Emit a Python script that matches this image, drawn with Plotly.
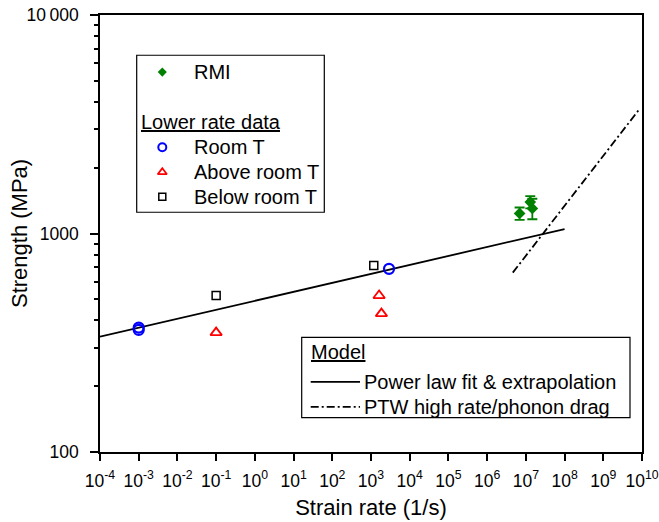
import plotly.graph_objects as go

FONT = "Liberation Sans, Arial, sans-serif"

# ---- data ----
rmi_rate = [6.9e6, 1.30e7, 1.47e7]
rmi_strength = [1235, 1392, 1302]
rmi_err = [80, 90, 140]

room_rate = [1e-3, 1e-3, 2.92e3]
room_strength = [371, 362, 689]

above_rate = [1e-1, 1.62e3, 1.86e3]
above_strength = [352, 520, 430]

below_rate = [1e-1, 1.18e3]
below_strength = [520, 713]

fit_rate = [1e-4, 1e8]
fit_strength = [337, 1048]

ptw_rate = [4.6e6, 8.3e9]
ptw_strength = [662, 3680]

x_exponents = list(range(-4, 11))
x_tickvals = [10.0 ** k for k in x_exponents]
x_ticktext = ["10<sup>%d</sup>" % k for k in x_exponents]
y_tickvals = [100, 1000, 10000]
y_ticktext = ["100", "1000", "10\u2009000"]
y_minor = [m * 10 ** e for e in (2, 3) for m in range(2, 10)]

GREEN = "#008000"
BLUE = "#0000ff"
RED = "#ff0000"

fig = go.Figure()

# model lines
fig.add_trace(go.Scatter(x=fit_rate, y=fit_strength, mode="lines",
                         line=dict(color="black", width=1.8), showlegend=False))
fig.add_trace(go.Scatter(x=ptw_rate, y=ptw_strength, mode="lines",
                         line=dict(color="black", width=1.8, dash="8px,3px,2px,3px"),
                         showlegend=False))

# data
fig.add_trace(go.Scatter(x=room_rate, y=room_strength, mode="markers",
                         marker=dict(symbol="circle-open", size=10, color=BLUE,
                                     line=dict(width=2.2, color=BLUE)),
                         showlegend=False))
fig.add_trace(go.Scatter(x=above_rate, y=above_strength, mode="markers",
                         marker=dict(symbol="triangle-up-open", size=10, color=RED,
                                     line=dict(width=1.8, color=RED)),
                         showlegend=False))
fig.add_trace(go.Scatter(x=below_rate, y=below_strength, mode="markers",
                         marker=dict(symbol="square-open", size=8, color="black",
                                     line=dict(width=1.5, color="black")),
                         showlegend=False))
fig.add_trace(go.Scatter(x=rmi_rate, y=rmi_strength, mode="markers",
                         marker=dict(symbol="diamond", size=9, color=GREEN),
                         error_y=dict(type="data", array=rmi_err, visible=True,
                                      color=GREEN, thickness=1.8, width=5),
                         showlegend=False))

# ---- legend boxes, drawn on a hidden pixel-like overlay axis ----
LX0, LX1 = 100, 642
LY0, LY1 = 451.7, 15.3

leg_marks = [
    (162.3, 72.3, dict(symbol="diamond", size=7, color=GREEN)),
    (162.3, 147.3, dict(symbol="circle-open", size=8, color=BLUE, line=dict(width=2, color=BLUE))),
    (162.3, 172.3, dict(symbol="triangle-up-open", size=8, color=RED, line=dict(width=1.8, color=RED))),
    (162.3, 196.7, dict(symbol="square-open", size=7, color="black", line=dict(width=1.5, color="black"))),
]
for lx, ly, mk in leg_marks:
    fig.add_trace(go.Scatter(x=[lx], y=[ly], xaxis="x2", yaxis="y2", mode="markers",
                             marker=mk, showlegend=False, hoverinfo="skip"))

shapes = [
    dict(type="rect", xref="x2", yref="y2", x0=136.7, x1=324.3, y0=55.5, y1=212.3,
         line=dict(color="black", width=1.2), fillcolor="rgba(0,0,0,0)"),
    dict(type="rect", xref="x2", yref="y2", x0=301.7, x1=630, y0=337.3, y1=417.3,
         line=dict(color="black", width=1.2), fillcolor="white", layer="above"),
    dict(type="line", xref="x2", yref="y2", x0=310.7, x1=360, y0=381.7, y1=381.7,
         line=dict(color="black", width=1.8)),
    dict(type="line", xref="x2", yref="y2", x0=310.7, x1=360, y0=406.7, y1=406.7,
         line=dict(color="black", width=1.8, dash="8px,3px,2px,3px")),
]

leg_font = dict(family=FONT, size=20, color="black")
annots = []
for tx, ty, txt in [
    (191.5, 72.3, "RMI"),
    (139.0, 121.7, "<u>Lower rate data</u>"),
    (191.5, 147.3, "Room T"),
    (191.5, 172.3, "Above room T"),
    (191.5, 196.7, "Below room T"),
    (309.0, 351.7, "<u>Model</u>"),
    (362.0, 381.7, "Power law fit &amp; extrapolation"),
    (362.0, 406.7, "PTW high rate/phonon drag"),
]:
    annots.append(dict(x=tx, y=ty, xref="x2", yref="y2", text=txt, showarrow=False,
                       xanchor="left", yanchor="middle", font=leg_font))

# y-axis title as a rotated annotation (exact placement)
annots.append(dict(x=(19.5 - LX0) / (LX1 - LX0), y=0.5, xref="paper", yref="paper",
                   text="Strength (MPa)", textangle=-90, showarrow=False,
                   xanchor="center", yanchor="middle",
                   font=dict(family=FONT, size=22, color="black")))

fig.update_layout(
    width=659, height=522,
    margin=dict(l=100, r=17, t=15, b=70, autoexpand=False),
    paper_bgcolor="white", plot_bgcolor="white",
    font=dict(family=FONT, color="black"),
    shapes=shapes,
    annotations=annots,
    xaxis=dict(type="log", range=[-4, 10], tickmode="array", tickvals=x_tickvals,
               ticktext=x_ticktext, showgrid=False, zeroline=False, automargin=False,
               showline=True, linecolor="black", linewidth=1.5, mirror=True,
               ticks="outside", ticklen=7, tickwidth=1.5, tickcolor="black",
               ticklabelstandoff=5,
               tickfont=dict(family=FONT, size=17.5, color="black"),
               title=dict(text="Strain rate (1/s)", font=dict(family=FONT, size=22, color="black"),
                          standoff=10)),
    yaxis=dict(type="log", range=[2, 4], tickmode="array", tickvals=y_tickvals,
               ticktext=y_ticktext, showgrid=False, zeroline=False, automargin=False,
               showline=True, linecolor="black", linewidth=1.5, mirror=True,
               ticks="outside", ticklen=8, tickwidth=1.5, tickcolor="black",
               minor=dict(tickmode="array", tickvals=y_minor, ticks="outside",
                          ticklen=4, tickwidth=1.5, tickcolor="black", showgrid=False),
               ticklabelstandoff=8,
               tickfont=dict(family=FONT, size=17.5, color="black")),
    xaxis2=dict(overlaying="x", anchor="y2", range=[LX0, LX1], visible=False,
                fixedrange=True),
    yaxis2=dict(overlaying="y", anchor="x2", range=[LY0, LY1], visible=False,
                fixedrange=True),
)

fig.write_html("out.html")
